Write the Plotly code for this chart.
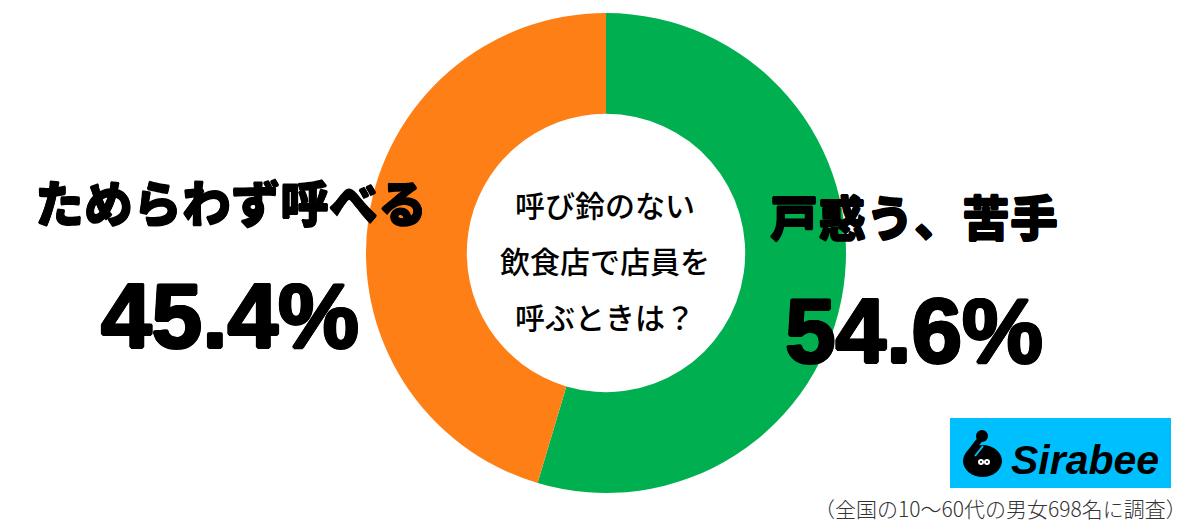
import plotly.graph_objects as go

labels = ["戸惑う、苦手", "ためらわず呼べる"]
values = [54.6, 45.4]
colors = ["#00B050", "#FF7F17"]
center_lines = ["呼び鈴のない", "飲食店で店員を", "呼ぶときは？"]
pct_labels = ["54.6%", "45.4%"]
note = "（全国の10〜60代の男女698名に調査）"
logo = "Sirabee"
FONT = "Noto Sans CJK JP"
W, H = 1200, 522
HEAVY = "1.5px 0 0 #000,-1.5px 0 0 #000,0 1.5px 0 #000,0 -1.5px 0 #000,1px 1px 0 #000,-1px -1px 0 #000,1px -1px 0 #000,-1px 1px 0 #000"
SEMI = "0.6px 0 0 #000,-0.6px 0 0 #000,0 0.6px 0 #000,0 -0.6px 0 #000"

fig = go.Figure(go.Pie(
    labels=labels, values=values, hole=0.58, sort=False, direction="clockwise",
    rotation=0, marker=dict(colors=colors, line=dict(width=0)),
    textinfo="none", hoverinfo="label+percent", showlegend=False,
    domain=dict(x=[366/W, 846/W], y=[1-493/H, 1-13/H]),
))

def txt(x, y, s, size, weight=900, color="#000", **kw):
    fig.add_annotation(x=x/W, y=1-y/H, xref="paper", yref="paper", text=s, showarrow=False,
                       xanchor="center", yanchor="middle",
                       font=dict(family=kw.pop("family", FONT), size=size, color=color, weight=weight, **kw))

def shape(kind, x0, y0, x1, y1, color):
    fig.add_shape(type=kind, xref="paper", yref="paper", x0=x0/W, x1=x1/W,
                  y0=1-y1/H, y1=1-y0/H, fillcolor=color, line_width=0, layer="above")

def stroke(x0, y0, x1, y1, color, width):
    fig.add_shape(type="line", xref="paper", yref="paper", x0=x0/W, x1=x1/W,
                  y0=1-y0/H, y1=1-y1/H, line=dict(color=color, width=width), layer="above")

txt(231, 201, labels[1], 49, shadow=SEMI)
txt(914, 215, labels[0], 48, shadow=SEMI)
txt(230, 315, pct_labels[1], 91, family="Liberation Sans", weight=700, shadow=HEAVY)
txt(914, 330, pct_labels[0], 91, family="Liberation Sans", weight=700, shadow=HEAVY)
for yy, s in zip([204, 260, 316], center_lines):
    txt(605, yy, s, 30, weight=500)

shape("rect", 950, 418, 1171, 488, "#00BFFF")
# logo mark
shape("circle", 963, 445, 1002, 477, "#000")
shape("circle", 976, 430, 988, 442, "#000")
stroke(981, 438, 968, 455, "#000", 6)
stroke(983, 446, 975, 456, "#00BFFF", 2)
shape("circle", 978, 459, 984, 465, "#fff")
shape("circle", 984, 459, 990, 465, "#fff")
shape("circle", 980, 461, 982, 463, "#000")
shape("circle", 986, 461, 988, 463, "#000")
txt(1085, 460, logo, 41, weight=700, family="Liberation Sans", style="italic")
txt(1001, 508, note, 21, weight=300, color="#333")

fig.update_layout(width=W, height=H, margin=dict(l=0, r=0, t=0, b=0),
                  paper_bgcolor="white", plot_bgcolor="white")
fig.write_html("out.html", post_script="document.body.style.margin='0';",
               config=dict(displayModeBar=False))
